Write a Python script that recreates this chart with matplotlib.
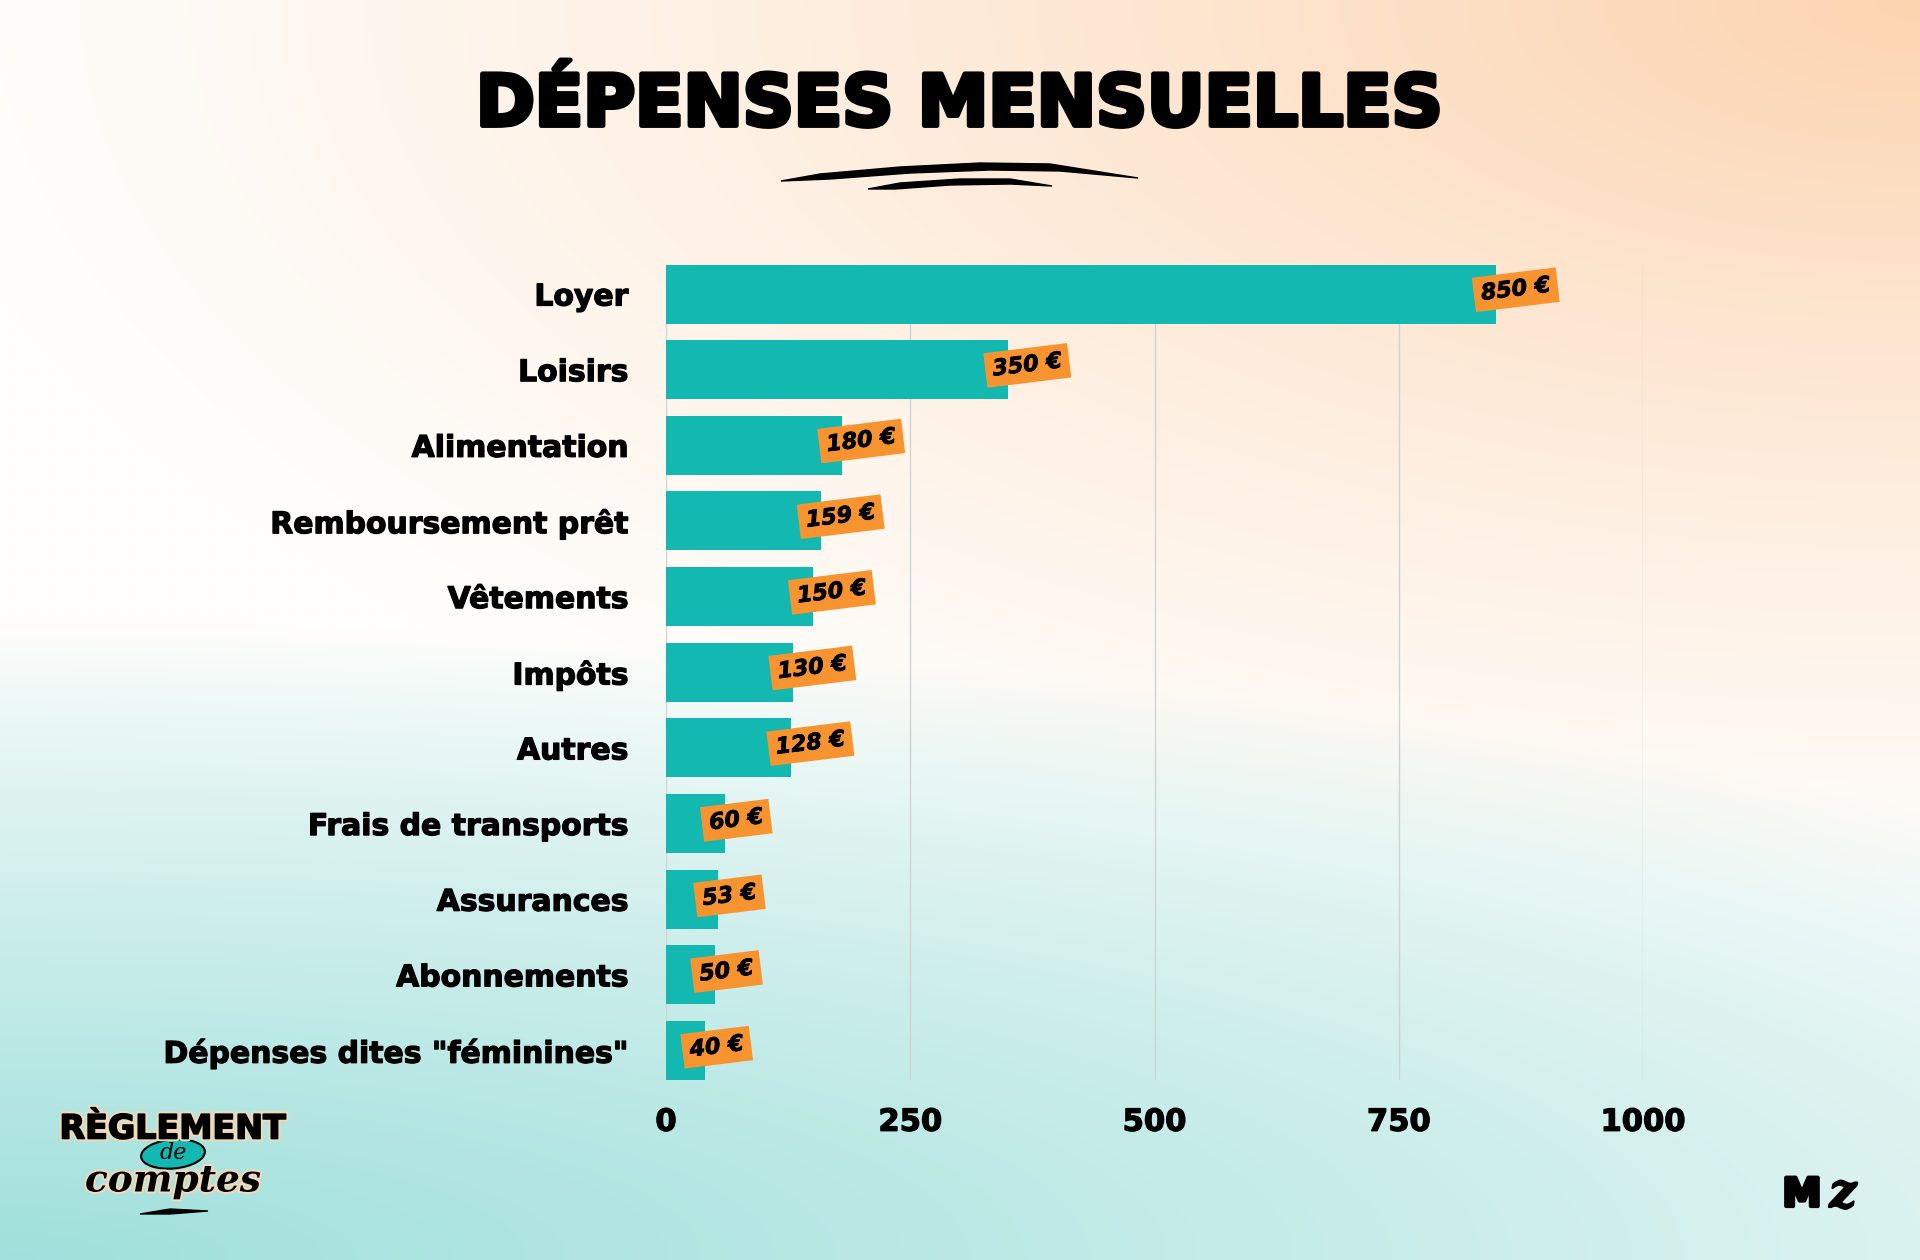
import numpy as np
import matplotlib
matplotlib.use("Agg")
import matplotlib.pyplot as plt
from matplotlib.patches import Polygon, Ellipse
import matplotlib.patheffects as pe

categories = ["Loyer", "Loisirs", "Alimentation", "Remboursement prêt", "Vêtements",
              "Impôts", "Autres", "Frais de transports", "Assurances", "Abonnements",
              'Dépenses dites "féminines"']
values = [850, 350, 180, 159, 150, 130, 128, 60, 53, 50, 40]
xticks = [0, 250, 500, 750, 1000]
title = "DÉPENSES MENSUELLES"

TEAL = "#13b8b0"
ORANGE = "#f7942f"
W, H = 1920, 1260
heavy = [pe.withStroke(linewidth=0.9, foreground="black")]

fig = plt.figure(figsize=(W / 100, H / 100), dpi=100)

# ---- background: white base, peach from top-right, teal from bottom-left
bg = fig.add_axes([0, 0, 1, 1])
bg.set_xlim(0, W)
bg.set_ylim(H, 0)
bg.axis("off")
gx, gy = np.meshgrid(np.linspace(0, 1, 384), np.linspace(0, 1, 252))
white = np.array([255, 254, 252]) / 255
peach = np.array([252, 212, 176]) / 255
teal = np.array([160, 224, 220]) / 255
wp = np.clip(1 - np.hypot((1 - gx) * 1.0, gy * 1.45) / 1.05, 0, 1) ** 1.2
wt = np.clip(1 - np.hypot(gx * 0.7, (1 - gy) * 2.0) / 1.0, 0, 1) ** 0.8
img = (white * (1 - wp - wt)[..., None] + peach * wp[..., None] + teal * wt[..., None])
bg.imshow(np.clip(img, 0, 1), extent=[0, W, H, 0], aspect="auto", interpolation="bicubic")

# title + brush strokes
bg.text(W / 2, 106, title, ha="center", va="center", fontsize=51,
        family="DejaVu Sans", fontweight="bold", color="black",
        path_effects=[pe.withStroke(linewidth=3.5, foreground="black")])
s1 = [(781, 181), (820, 174), (900, 167), (980, 163), (1050, 164), (1138, 178),
      (1060, 171), (990, 170), (910, 173), (830, 179)]
s2 = [(868, 189), (900, 183), (960, 179), (1010, 179), (1052, 186),
      (1010, 184), (950, 185), (895, 189)]
bg.add_patch(Polygon(s1, closed=True, color="black"))
bg.add_patch(Polygon(s2, closed=True, color="black"))

# ---- chart
ax = fig.add_axes([666 / W, 1 - 1080 / H, 977 / W, (1080 - 264.5) / H])
ax.patch.set_alpha(0)
ypos = np.arange(len(categories))
ax.barh(ypos, values, height=0.78, color=TEAL, zorder=2)
ax.set_xlim(0, 1000)
ax.set_ylim(len(categories) - 1 + 0.39, -0.39)
ax.set_xticks(xticks)
ax.set_xticklabels([str(t) for t in xticks])
ax.set_yticks(ypos)
ax.set_yticklabels(categories)
ax.tick_params(axis="x", length=0, pad=20, labelsize=22)
ax.tick_params(axis="y", length=0, pad=27, labelsize=21.5)
for lab in ax.get_xticklabels() + ax.get_yticklabels():
    lab.set_fontweight("bold")
    lab.set_family("DejaVu Sans")
    lab.set_path_effects(heavy)
for t in xticks:
    ax.axvline(t, color="#cfd3d3", lw=1, zorder=0)
for s in ax.spines.values():
    s.set_visible(False)

for y, v in zip(ypos, values):
    ax.annotate(f"{v} €", xy=(v, y), xytext=(-11, 0), textcoords="offset points",
                ha="left", va="center", rotation=7, rotation_mode="anchor",
                fontsize=16, fontweight="bold", fontstyle="italic", color="black",
                family="DejaVu Sans", zorder=4, annotation_clip=False,
                path_effects=[pe.withStroke(linewidth=0.6, foreground="black")],
                bbox=dict(boxstyle="square,pad=0.33", fc=ORANGE, ec="none"))

# ---- logos
bg.text(173, 1129, "RÈGLEMENT", ha="center", va="center", fontsize=24,
        fontweight="bold", family="DejaVu Sans", color="black",
        path_effects=[pe.withStroke(linewidth=4, foreground="#f3d9b6"),
                      pe.withStroke(linewidth=1.2, foreground="black")])
bg.add_patch(Ellipse((173, 1154), 64, 29, angle=-5, fc=TEAL, ec="black", lw=1.5))
bg.text(173, 1153, "de", ha="center", va="center", fontsize=16, fontstyle="italic",
        family="DejaVu Serif", color="black")
bg.text(173, 1181, "comptes", ha="center", va="center", fontsize=27, fontstyle="italic",
        fontweight="bold", family="DejaVu Serif", color="black",
        path_effects=[pe.withStroke(linewidth=3, foreground="#f3d9b6")])
bg.add_patch(Polygon([(140, 1214), (170, 1209), (208, 1211), (170, 1214)], closed=True,
                     color="black"))
bg.text(1802, 1195, "M", ha="center", va="center", fontsize=28, fontweight="bold",
        family="DejaVu Sans", color="black",
        path_effects=[pe.withStroke(linewidth=3, foreground="black")])
bg.text(1843, 1194, "z", ha="center", va="center", fontsize=34, fontweight="bold",
        fontstyle="italic", family="DejaVu Serif", color="black",
        path_effects=[pe.withStroke(linewidth=1.5, foreground="black")])

fig.savefig("out.png", dpi=100)
